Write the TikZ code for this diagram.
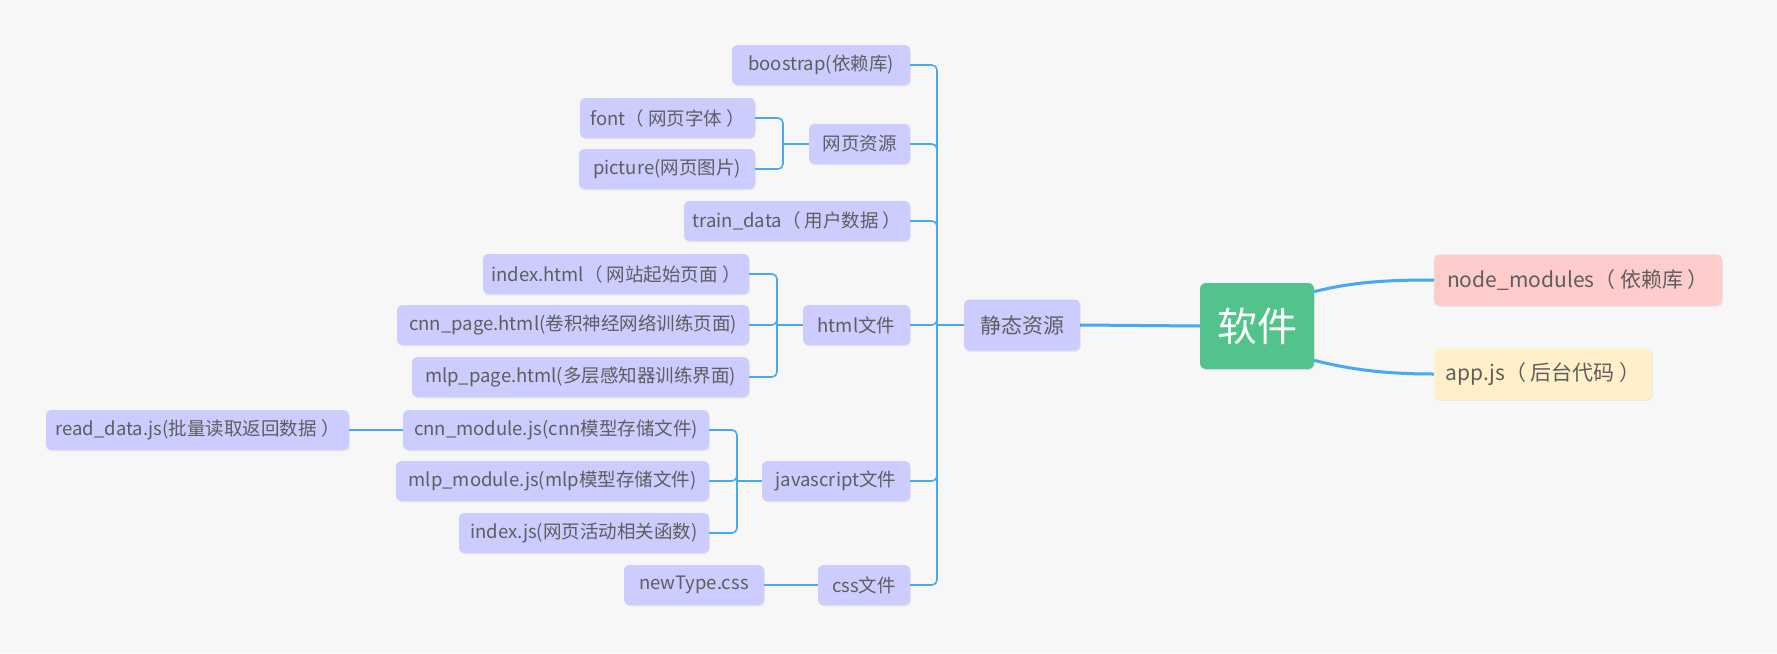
\documentclass[tikz,border=0pt]{standalone}
\usepackage{fontspec}
\setmainfont{Noto Sans CJK SC}
\usetikzlibrary{shadows}

\definecolor{bgcol}{HTML}{F7F7F7}
\definecolor{lav}{HTML}{CCCCFF}
\definecolor{pinkbox}{HTML}{FFCCCC}
\definecolor{creambox}{HTML}{FFF0C9}
\definecolor{rootgreen}{HTML}{52C38B}
\definecolor{linkblue}{HTML}{45A9F5}
\definecolor{ink}{HTML}{5E5E5E}

\tikzset{
  topic/.style={rectangle, rounded corners=5pt, inner sep=0pt, text=ink,
    drop shadow={shadow xshift=0.8pt, shadow yshift=-1.3pt, opacity=0.13}},
  leaf/.style={topic, fill=lav, minimum height=40pt, font=\fontsize{18.5}{20}\selectfont},
  branch/.style={topic, minimum height=51pt, font=\fontsize{21}{24}\selectfont},
  rootbox/.style={rectangle, rounded corners=6pt, fill=rootgreen, text=white,
    minimum width=114pt, minimum height=86pt, font=\fontsize{40}{44}\selectfont,
    drop shadow={shadow xshift=0.8pt, shadow yshift=-1.3pt, opacity=0.13}},
  link/.style={draw=linkblue, line width=1.6pt},
  elbow/.style={link, rounded corners=5pt},
  mainlink/.style={draw=linkblue, line width=3pt}
}

\begin{document}
\begin{tikzpicture}[x=1pt, y=-1pt]
  % canvas
  \fill[bgcol] (0,0) rectangle (1777,653);
  \useasboundingbox (0,0) rectangle (1777,653);

  % root and first level
  \node[rootbox] (root) at (1257,326) {软件};
  \node[branch, fill=pinkbox, minimum width=288pt] (nodem) at (1578,280) {node\_modules（ 依赖库 ）};
  \node[branch, fill=creambox, minimum width=218pt] (appjs) at (1543,374) {app.js（ 后台代码 ）};
  \node[branch, fill=lav, minimum width=116pt] (static) at (1022,325) {静态资源};

  % second level
  \node[leaf, minimum width=178pt] (boot)  at (821,65)  {boostrap(依赖库)};
  \node[leaf, minimum width=101pt] (web)   at (859.5,144) {网页资源};
  \node[leaf, minimum width=226pt] (train) at (797,221) {train\_data（ 用户数据 ）};
  \node[leaf, minimum width=107pt] (html)  at (856.5,325) {html文件};
  \node[leaf, minimum width=148pt] (js)    at (836,481) {javascript文件};
  \node[leaf, minimum width=92pt]  (css)   at (864,585) {css文件};

  % third level
  \node[leaf, minimum width=175pt] (font)  at (667.5,118) {font（ 网页字体 ）};
  \node[leaf, minimum width=176pt] (pic)   at (667,169) {picture(网页图片)};
  \node[leaf, minimum width=266pt] (idxh)  at (616,274) {index.html（ 网站起始页面 ）};
  \node[leaf, minimum width=352pt] (cnnp)  at (573,325) {cnn\_page.html(卷积神经网络训练页面)};
  \node[leaf, minimum width=337pt] (mlpp)  at (580.5,377) {mlp\_page.html(多层感知器训练界面)};
  \node[leaf, minimum width=306pt] (cnnm)  at (556,430) {cnn\_module.js(cnn模型存储文件)};
  \node[leaf, minimum width=313pt] (mlpm)  at (552.5,481) {mlp\_module.js(mlp模型存储文件)};
  \node[leaf, minimum width=250pt] (idxj)  at (584,533) {index.js(网页活动相关函数)};
  \node[leaf, minimum width=140pt] (newt)  at (694,585) {newType.css};

  % fourth level
  \node[leaf, minimum width=303pt] (readd) at (197.5,430) {read\_data.js(批量读取返回数据 ）};

  % bracket junctions
  \coordinate (jStatic) at (937,325);
  \coordinate (jWeb)    at (783,144);
  \coordinate (jHtml)   at (777,325);
  \coordinate (jJs)     at (737,481);

  % root connectors
  \draw[mainlink] (static.east) -- (root.west);
  \draw[mainlink] (root.31) .. controls +(40,-10) and +(-45,0) .. (nodem.west);
  \draw[mainlink] (root.-31) .. controls +(40,10) and +(-45,0) .. (appjs.west);

  % static resources tree
  \draw[link] (static.west) -- (jStatic);
  \foreach \c in {boot,web,train,html,js,css}
    \draw[elbow] (jStatic) |- (\c.east);

  \draw[link] (web.west) -- (jWeb);
  \foreach \c in {font,pic}
    \draw[elbow] (jWeb) |- (\c.east);

  \draw[link] (html.west) -- (jHtml);
  \foreach \c in {idxh,cnnp,mlpp}
    \draw[elbow] (jHtml) |- (\c.east);

  \draw[link] (js.west) -- (jJs);
  \foreach \c in {cnnm,mlpm,idxj}
    \draw[elbow] (jJs) |- (\c.east);

  \draw[link] (cnnm.west) -- (readd.east);
  \draw[link] (css.west) -- (newt.east);
\end{tikzpicture}
\end{document}
